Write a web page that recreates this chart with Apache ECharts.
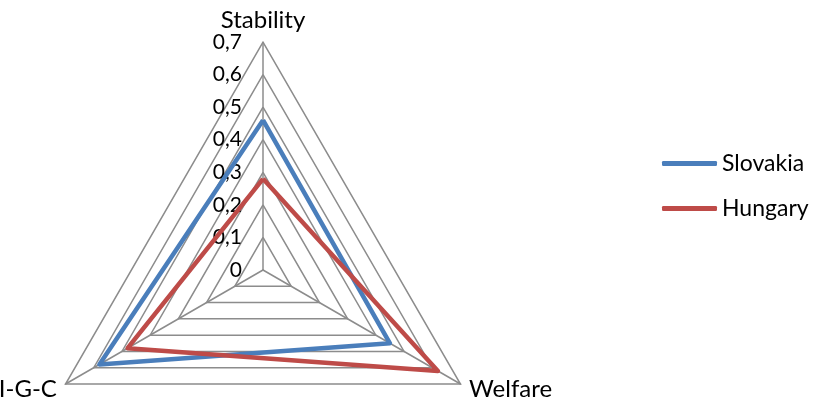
<!DOCTYPE html>
<html>
<head>
<meta charset="utf-8">
<script src="https://cdn.jsdelivr.net/npm/echarts@6/dist/echarts.min.js"></script>
<style>
  html, body { margin: 0; padding: 0; background: #ffffff; }
  #chart { width: 814px; height: 406px; }
</style>
</head>
<body>
<div id="chart"></div>
<script>
// Radar axes (counter-clockwise from the top)
const indicators = ['Stability', 'I-G-C', 'Welfare'];
const axisMax = 0.7;
const tickStep = 0.1;

// Series values, in the same order as the indicators
const slovakia = [0.46, 0.58, 0.45];
const hungary = [0.28, 0.48, 0.62];

const seriesNames = ['Slovakia', 'Hungary'];
const seriesColors = ['#4a7ebb', '#be4b48'];

const FONT = 'Lato';
const gridColor = '#8c8c8c';
const cx = 263, cy = 270, R = 228;

const chart = echarts.init(document.getElementById('chart'), null, { renderer: 'canvas' });

chart.setOption({
  animation: false,
  backgroundColor: '#ffffff',
  textStyle: { fontFamily: FONT },
  legend: {
    orient: 'vertical',
    left: 662,
    top: 152,
    padding: 0,
    itemWidth: 55,
    itemHeight: 5,
    itemGap: 22,
    icon: 'roundRect',
    data: seriesNames,
    textStyle: { fontFamily: FONT, fontSize: 23, color: '#000000' }
  },
  radar: {
    center: [cx, cy],
    radius: R,
    startAngle: 90,
    shape: 'polygon',
    splitNumber: Math.round(axisMax / tickStep),
    indicator: indicators.map(n => ({ name: n, min: 0, max: axisMax })),
    axisName: { color: '#000000', fontFamily: FONT, fontSize: 24 },
    nameGap: 10,
    axisLine: { lineStyle: { color: gridColor, width: 1.5 } },
    splitLine: { lineStyle: { color: gridColor, width: 1.5 } },
    splitArea: { show: false },
    axisTick: { show: false },
    axisLabel: { show: false }
  },
  // Value scale printed beside the top spoke
  grid: { left: cx, top: cy - R, width: 1, height: R, containLabel: false },
  xAxis: { type: 'value', show: false },
  yAxis: {
    type: 'value',
    min: 0,
    max: axisMax,
    interval: tickStep,
    axisLine: { show: false },
    axisTick: { show: false },
    splitLine: { show: false },
    axisLabel: {
      margin: 21,
      fontFamily: FONT,
      fontSize: 21,
      color: '#000000',
      formatter: v => v === 0 ? '0' : v.toFixed(1).replace('.', ',')
    }
  },
  series: [{
    type: 'radar',
    symbol: 'none',
    data: [
      { name: seriesNames[0], value: slovakia,
        lineStyle: { color: seriesColors[0], width: 4.5 },
        itemStyle: { color: seriesColors[0] } },
      { name: seriesNames[1], value: hungary,
        lineStyle: { color: seriesColors[1], width: 4.5 },
        itemStyle: { color: seriesColors[1] } }
    ]
  }]
});
</script>
</body>
</html>
